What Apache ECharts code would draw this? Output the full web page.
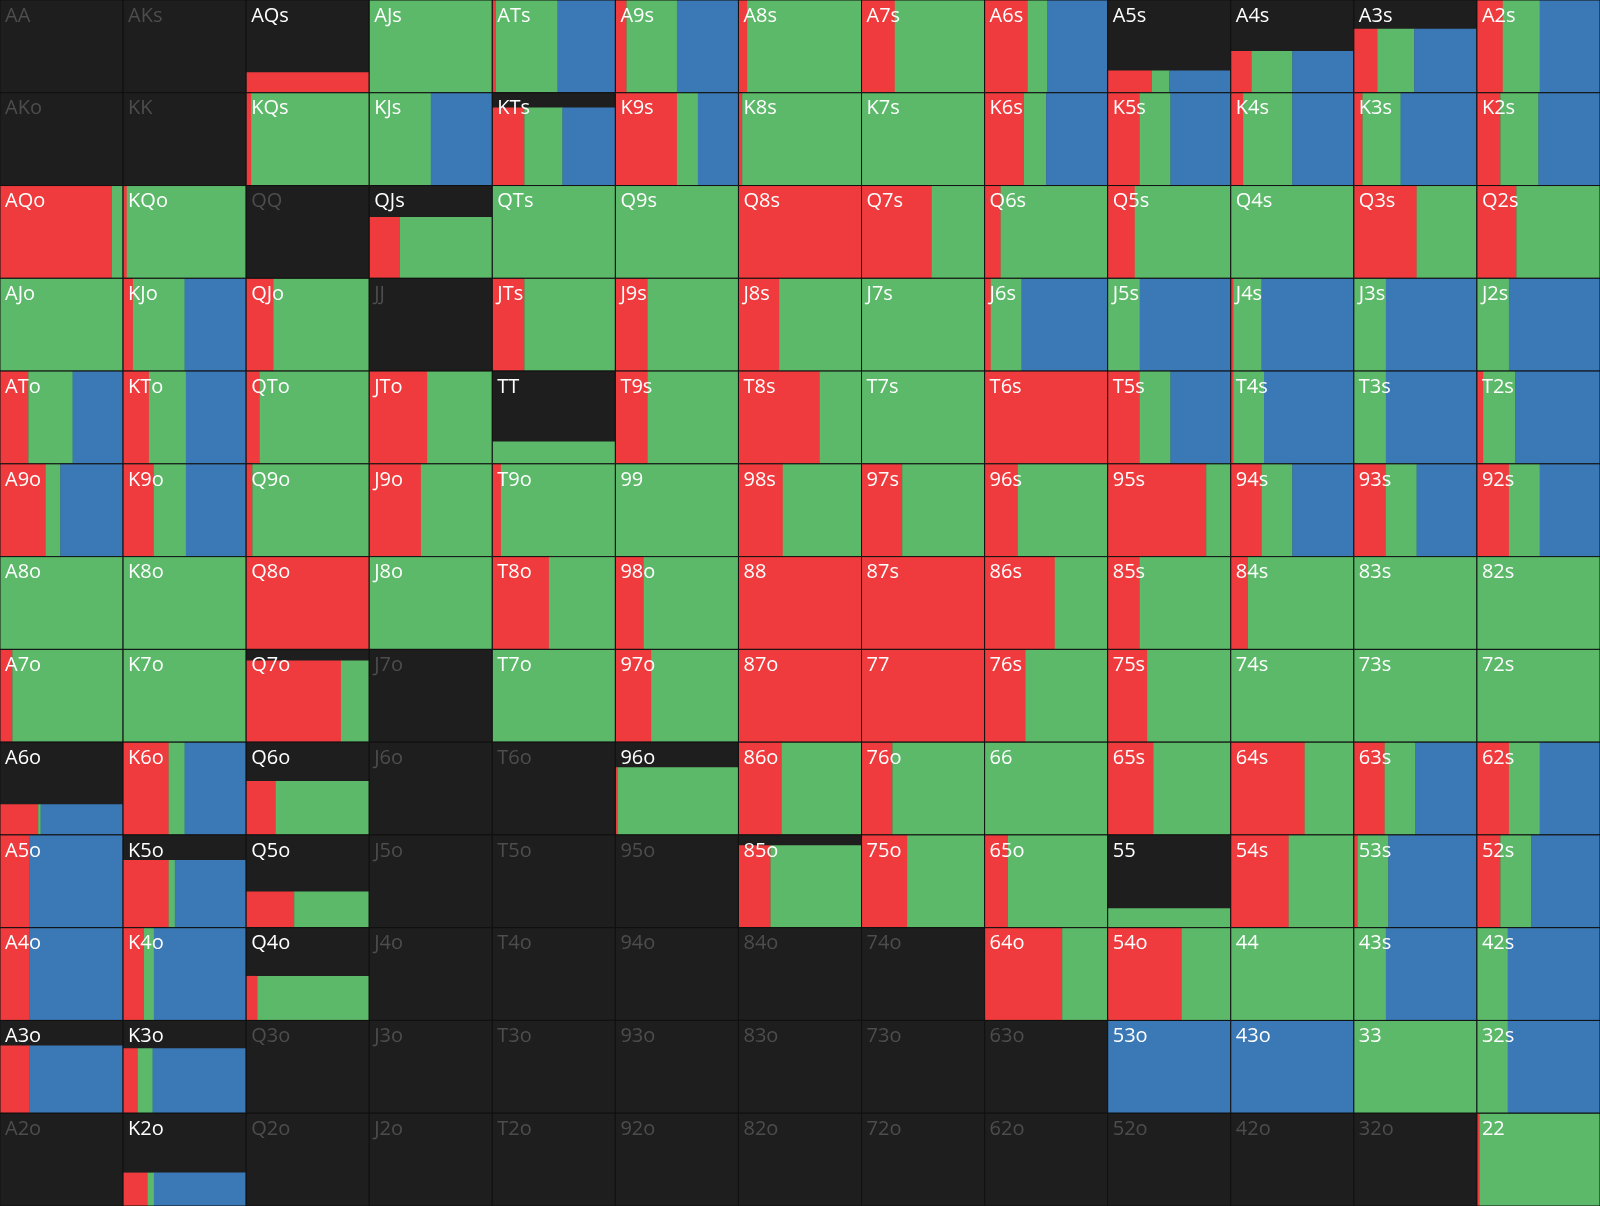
<!DOCTYPE html>
<html><head><meta charset="utf-8">
<script src="https://cdn.jsdelivr.net/npm/echarts@6/dist/echarts.min.js"></script>
<style>html,body{margin:0;padding:0;background:#1e1e1e}#c{width:1600px;height:1206px}</style>
</head><body><div id="c"></div>
<script>
const ranks = ["A","K","Q","J","T","9","8","7","6","5","4","3","2"];
// fraction of cell height in range, per row
const heights = [
[0,0,.22,1,1,1,1,1,1,.24,.45,.69,1],
[0,0,1,1,.84,1,1,1,1,1,1,1,1],
[1,1,0,.66,1,1,1,1,1,1,1,1,1],
[1,1,1,0,1,1,1,1,1,1,1,1,1],
[1,1,1,1,.24,1,1,1,1,1,1,1,1],
[1,1,1,1,1,1,1,1,1,1,1,1,1],
[1,1,1,1,1,1,1,1,1,1,1,1,1],
[1,1,.88,0,1,1,1,1,1,1,1,1,1],
[.33,1,.58,0,0,.73,1,1,1,1,1,1,1],
[1,.73,.39,0,0,0,.89,1,1,.21,1,1,1],
[1,1,.48,0,0,0,0,0,1,1,1,1,1],
[.73,.7,0,0,0,0,0,0,0,1,1,1,1],
[0,.36,0,0,0,0,0,0,0,0,0,0,1]
];
// red share of width
const redShare = [
[0,0,1,0,.03,.09,.07,.27,.35,.36,.17,.19,.21],
[0,0,.04,0,.26,.5,.03,0,.32,.26,.1,.07,.19],
[.91,.03,0,.25,0,0,1,.57,.13,.22,0,.51,.32],
[0,.08,.22,0,.26,.26,.33,0,.05,0,.02,0,0],
[.23,.21,.11,.47,0,.26,.66,0,1,.26,.02,0,.05],
[.37,.25,.05,.42,.07,0,.36,.33,.27,.8,.25,.26,.26],
[0,0,1,0,.46,.23,1,1,.57,.26,.14,0,0],
[.1,0,.77,0,0,.29,1,1,.33,.32,0,0,0],
[.31,.37,.24,0,0,.02,.35,.25,0,.37,.6,.25,.26],
[.24,.37,.39,0,0,0,.26,.37,.19,0,.47,.03,.19],
[.24,.17,.09,0,0,0,0,0,.63,.6,0,0,0],
[.24,.12,0,0,0,0,0,0,0,0,0,0,0],
[0,.2,0,0,0,0,0,0,0,0,0,0,.02]
];
// green share of width (blue = remainder)
const greenShare = [
[0,0,0,1,.5,.41,.93,.73,.16,.14,.33,.3,.3],
[0,0,.96,.5,.31,.17,.97,1,.18,.25,.4,.31,.31],
[.09,.97,0,.75,1,1,0,.43,.87,.78,1,.49,.68],
[1,.42,.78,0,.74,.74,.67,1,.25,.26,.23,.26,.26],
[.36,.3,.89,.53,1,.74,.34,1,0,.25,.25,.26,.26],
[.12,.26,.95,.58,.93,1,.64,.67,.73,.2,.25,.25,.25],
[1,1,0,1,.54,.77,0,0,.43,.74,.86,1,1],
[.9,1,.23,0,1,.71,0,0,.67,.68,1,1,1],
[.02,.13,.76,0,0,.98,.65,.75,1,.63,.4,.25,.25],
[0,.05,.61,0,0,0,.74,.63,.81,1,.53,.25,.25],
[0,.08,.91,0,0,0,0,0,.37,.4,1,.26,.25],
[0,.12,0,0,0,0,0,0,0,0,0,1,.25],
[0,.05,0,0,0,0,0,0,0,0,0,0,.98]
];
const data = [];
for (let i=0;i<13;i++) for (let j=0;j<13;j++) {
  let lab = i===j ? ranks[i]+ranks[j] : (j>i ? ranks[i]+ranks[j]+"s" : ranks[j]+ranks[i]+"o");
  const h = heights[i][j], r = redShare[i][j], g = greenShare[i][j];
  data.push([j, i, h, r, g, Math.max(0, 1-r-g), lab]);
}
const RED="#ef3b3d", GREEN="#5cb96a", BLUE="#3b78b6", BLACK="#1e1e1e";
function renderItem(params, api){
  const c = api.coord([api.value(0), api.value(1)]);
  const s = api.size([1,1]);
  const x0 = c[0]-s[0]/2, y0 = c[1]-s[1]/2, w = s[0], hh = s[1];
  const h = api.value(2), r=api.value(3), g=api.value(4), b=api.value(5);
  const ch = [{type:'rect', shape:{x:x0,y:y0,width:w,height:hh}, style:{fill:BLACK}}];
  if (h>0) {
    const top = y0 + hh*(1-h);
    let x = x0;
    [[r,RED],[g,GREEN],[b,BLUE]].forEach(([f,col])=>{
      if (f>0){ ch.push({type:'rect', shape:{x:x,y:top,width:w*f+0.3,height:hh*h}, style:{fill:col}}); x += w*f; }
    });
  }
  ch.push({type:'rect', shape:{x:x0,y:y0,width:w,height:hh}, style:{fill:'none', stroke:'#111', lineWidth:1}});
  ch.push({type:'text', style:{x:x0+5, y:y0+6, text:api.value(6), fill: h>0?'#ffffff':'#4d4d4d', font:'20px "Open Sans", sans-serif', textVerticalAlign:'top'}});
  return {type:'group', children: ch};
}
const chart = echarts.init(document.getElementById('c'));
chart.setOption({
  backgroundColor: BLACK,
  animation:false,
  grid:{left:0,right:0,top:0,bottom:0},
  xAxis:{type:'category', data:ranks, show:false},
  yAxis:{type:'category', data:ranks, inverse:true, show:false},
  series:[{type:'custom', renderItem, data, encode:{x:0,y:1}}]
});
</script></body></html>
